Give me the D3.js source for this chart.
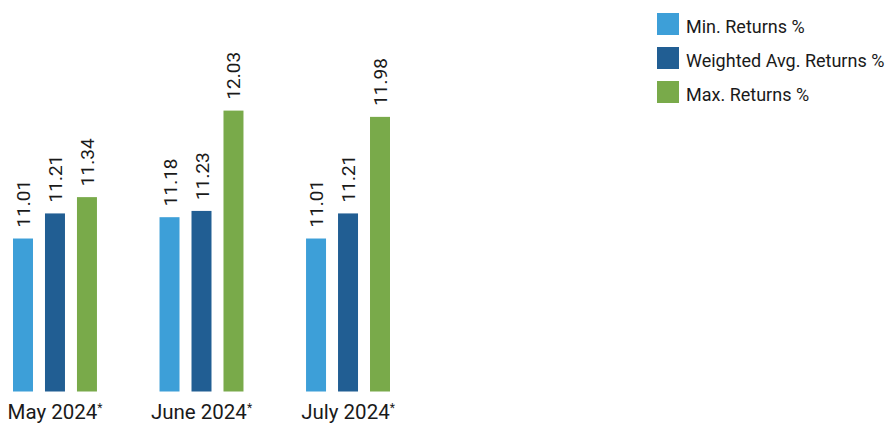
<!DOCTYPE html>
<html>
<head>
<meta charset="utf-8">
<script src="https://cdn.jsdelivr.net/npm/d3@7"></script>
<style>
  html, body { margin: 0; padding: 0; background: #fff; }
  svg { display: block; font-family: Roboto, "Noto Sans", sans-serif; }
</style>
</head>
<body>
<svg id="chart" width="885" height="425"></svg>
<script>
// Monthly return figures
const months = ["May 2024", "June 2024", "July 2024"];
const seriesNames = ["Min. Returns %", "Weighted Avg. Returns %", "Max. Returns %"];
const seriesColors = ["#3d9fd8", "#215e93", "#79aa4a"];
const minReturns = [11.01, 11.18, 11.01];
const weightedAvgReturns = [11.21, 11.23, 11.21];
const maxReturns = [11.34, 12.03, 11.98];

const seriesValues = [minReturns, weightedAvgReturns, maxReturns];
const rows = months.map((m, i) => ({
  month: m,
  values: seriesNames.map((s, j) => ({ key: s, value: seriesValues[j][i] }))
}));

const svg = d3.select("#chart");
const baseY = 391.5;

const x0 = d3.scaleBand().domain(months).range([13, 390]).paddingInner(0.427).paddingOuter(0);
const x1 = d3.scaleBand().domain(seriesNames).range([0, x0.bandwidth()]).paddingInner(0.375).paddingOuter(0);
const y = d3.scaleLinear().domain([9.79, 12.03]).range([baseY, 110.6]);
const color = d3.scaleOrdinal().domain(seriesNames).range(seriesColors);

const groups = svg.append("g").selectAll("g")
  .data(rows).join("g")
  .attr("transform", d => `translate(${x0(d.month)},0)`);

groups.selectAll("rect")
  .data(d => d.values).join("rect")
  .attr("x", d => x1(d.key))
  .attr("width", x1.bandwidth())
  .attr("y", d => y(d.value))
  .attr("height", d => baseY - y(d.value))
  .attr("fill", d => color(d.key));

// rotated value labels above each bar
groups.selectAll("text.val")
  .data(d => d.values).join("text")
  .attr("class", "val")
  .attr("transform", d => `translate(${x1(d.key) + x1.bandwidth() / 2 + 7},${y(d.value) - 11}) rotate(-90)`)
  .attr("text-anchor", "start")
  .attr("font-size", 19)
  .attr("fill", "#1a1a1a")
  .text(d => d.value.toFixed(2));

// category axis
const xAxis = svg.append("g")
  .attr("transform", `translate(0,${baseY})`)
  .call(d3.axisBottom(x0).tickSize(0).tickPadding(0));
xAxis.select(".domain").remove();
xAxis.selectAll(".tick text")
  .attr("y", 27).attr("dy", 0)
  .attr("font-size", 20.5)
  .attr("font-family", "Roboto, 'Noto Sans', sans-serif")
  .attr("fill", "#1a1a1a")
  .each(function(d) {
    const t = d3.select(this);
    t.text(null);
    t.append("tspan").text(d);
    t.append("tspan").attr("font-size", 12).attr("dy", -7).text("*");
  });

// legend
const legend = svg.append("g").attr("transform", "translate(657,13)");
const item = legend.selectAll("g").data(seriesNames).join("g")
  .attr("transform", (d, i) => `translate(0,${i * 34})`);
item.append("rect").attr("width", 22).attr("height", 22).attr("fill", d => color(d));
item.append("text")
  .attr("x", 29).attr("y", 14).attr("dy", "0.35em")
  .attr("font-size", 18)
  .attr("fill", "#1a1a1a")
  .text(d => d);
</script>
</body>
</html>
